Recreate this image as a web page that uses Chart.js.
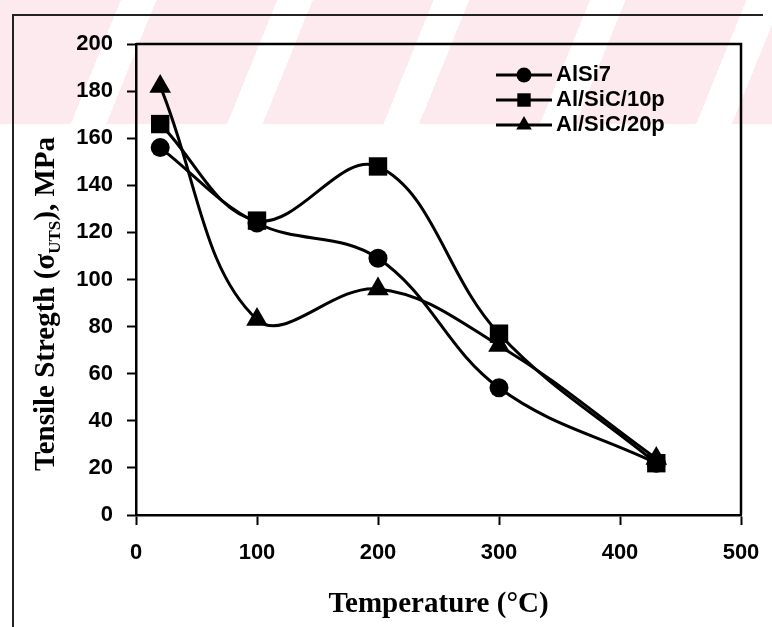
<!DOCTYPE html>
<html>
<head>
<meta charset="utf-8">
<script src="https://cdn.jsdelivr.net/npm/chart.js@4/dist/chart.umd.min.js"></script>
<style>
html,body{margin:0;padding:0;background:#fff;}
#wrap{position:relative;width:772px;height:627px;overflow:hidden;
  background:
    linear-gradient(to bottom, rgba(255,255,255,0) 0px, rgba(255,255,255,0) 124px, #fff 124px),
    repeating-linear-gradient(112deg, #fdeaee 0px, #fdeaee 112px, #ffffff 112px, #ffffff 145px);}
#frame{position:absolute;left:12px;top:14px;width:751px;height:625px;border-left:2px solid #222;border-top:2px solid #222;box-sizing:border-box;}
#c{position:absolute;left:0;top:0;}
</style>
</head>
<body>
<div id="wrap">
  <div id="frame"></div>
  <canvas id="c" width="772" height="627"></canvas>
</div>
<script>
// ---- data ----
const temperatureC = [20, 100, 200, 300, 430];
const alSi7 = [156, 124, 109, 54, 22];
const alSiC10p = [166, 125, 148, 77, 22];
const alSiC20p = [182, 83, 96, 72, 24];
const seriesNames = ['AlSi7', 'Al/SiC/10p', 'Al/SiC/20p'];
const seriesMarkers = ['circle', 'rect', 'triangle'];
const xTickValues = [0, 100, 200, 300, 400, 500];
const yTickValues = [0, 20, 40, 60, 80, 100, 120, 140, 160, 180, 200];
const xTitle = 'Temperature (\u00B0C)';
const yTitleParts = ['Tensile Stregth (\u03C3', 'UTS', '), MPa'];

const seriesValues = [alSi7, alSiC10p, alSiC20p];
const markerRadius = {circle: 9.5, rect: 13, triangle: 12.5};
const legendMarkerRadius = {circle: 7.5, rect: 9.5, triangle: 9};

function legendIcon(style) {
  const c = document.createElement('canvas');
  c.width = 64; c.height = 24;
  const g = c.getContext('2d');
  g.strokeStyle = '#000'; g.fillStyle = '#000'; g.lineWidth = 3;
  g.beginPath(); g.moveTo(8, 12); g.lineTo(64, 12); g.stroke();
  Chart.helpers.drawPoint(g, {pointStyle: style, radius: legendMarkerRadius[style], borderWidth: 0, rotation: 0}, 36, 12);
  return c;
}

const datasets = seriesNames.map((name, i) => ({
  label: name,
  data: temperatureC.map((t, j) => ({x: t, y: seriesValues[i][j]})),
  borderColor: '#000',
  backgroundColor: '#000',
  borderWidth: 3,
  pointStyle: seriesMarkers[i],
  pointRadius: markerRadius[seriesMarkers[i]],
  pointBackgroundColor: '#000',
  pointBorderColor: '#000',
  pointBorderWidth: 0,
  tension: 0.38,
  fill: false
}));

const tickFont = {family: '"Liberation Sans", Arial, sans-serif', size: 22, weight: 'bold'};
const legendFont = {family: '"Liberation Sans", Arial, sans-serif', size: 22, weight: 'bold'};

const framePlugin = {
  id: 'frame',
  beforeDraw(chart) {
    const lg = chart.legend;
    if (lg) { lg.left = 492; lg.top = 61; lg.right = 740; }
  },
  afterDatasetsDraw(chart) {
    const a = chart.chartArea, ctx = chart.ctx;
    ctx.save();
    ctx.strokeStyle = '#000'; ctx.lineWidth = 2.5;
    ctx.beginPath();
    ctx.moveTo(a.left, a.top); ctx.lineTo(a.right, a.top); ctx.lineTo(a.right, a.bottom);
    ctx.stroke();
    ctx.restore();
  },
  afterDraw(chart) {
    const ctx = chart.ctx;
    const big = 'bold 29px "Liberation Serif", "Times New Roman", serif';
    const small = 'bold 17px "Liberation Serif", "Times New Roman", serif';
    ctx.save();
    ctx.font = big; const w0 = ctx.measureText(yTitleParts[0]).width; const w2 = ctx.measureText(yTitleParts[2]).width;
    ctx.font = small; const w1 = ctx.measureText(yTitleParts[1]).width;
    const total = w0 + w1 + w2;
    ctx.translate(54, 304);
    ctx.rotate(-Math.PI / 2);
    ctx.fillStyle = '#000'; ctx.textBaseline = 'alphabetic'; ctx.textAlign = 'left';
    let x = -total / 2;
    ctx.font = big; ctx.fillText(yTitleParts[0], x, 0); x += w0;
    ctx.font = small; ctx.fillText(yTitleParts[1], x, 6); x += w1;
    ctx.font = big; ctx.fillText(yTitleParts[2], x, 0);
    ctx.restore();
  }
};

new Chart(document.getElementById('c'), {
  type: 'line',
  data: {datasets},
  options: {
    responsive: false,
    devicePixelRatio: 1,
    animation: false,
    layout: {padding: {left: 0, top: 44, right: 31, bottom: 0}},
    plugins: {
      tooltip: {enabled: false},
      legend: {
        position: 'chartArea',
        align: 'start',
        labels: {
          usePointStyle: true,
          pointStyleWidth: 50,
          padding: 3,
          color: '#000',
          font: legendFont,
          generateLabels(chart) {
            return chart.data.datasets.map((ds, i) => ({
              text: ds.label,
              datasetIndex: i,
              pointStyle: legendIcon(seriesMarkers[i]),
              fillStyle: '#000', strokeStyle: '#000', lineWidth: 0,
              fontColor: '#000', hidden: false
            }));
          }
        }
      }
    },
    scales: {
      x: {
        type: 'linear', min: 0, max: 500,
        afterFit(s) { s.height = 112; s.paddingLeft = 0; s.paddingRight = 0; },
        afterBuildTicks(s) { s.ticks = xTickValues.map(v => ({value: v})); },
        grid: {display: true, drawOnChartArea: false, drawTicks: true, tickLength: 10, tickWidth: 2, tickColor: '#000'},
        border: {display: true, color: '#000', width: 2.5},
        ticks: {color: '#000', font: tickFont, padding: 15, maxRotation: 0},
        title: {display: true, text: xTitle, color: '#000', padding: {top: 0, bottom: 5},
          font: {family: '"Liberation Serif", "Times New Roman", serif', size: 29, weight: 'bold'}}
      },
      y: {
        type: 'linear', min: 0, max: 200,
        afterFit(s) { s.width = 136; s.paddingTop = 0; s.paddingBottom = 0; },
        afterBuildTicks(s) { s.ticks = yTickValues.map(v => ({value: v})); },
        grid: {display: true, drawOnChartArea: false, drawTicks: true, tickLength: 9, tickWidth: 2, tickColor: '#000'},
        border: {display: true, color: '#000', width: 2.5},
        ticks: {color: '#000', font: tickFont, padding: 14}
      }
    }
  },
  plugins: [framePlugin]
});
</script>
</body>
</html>
